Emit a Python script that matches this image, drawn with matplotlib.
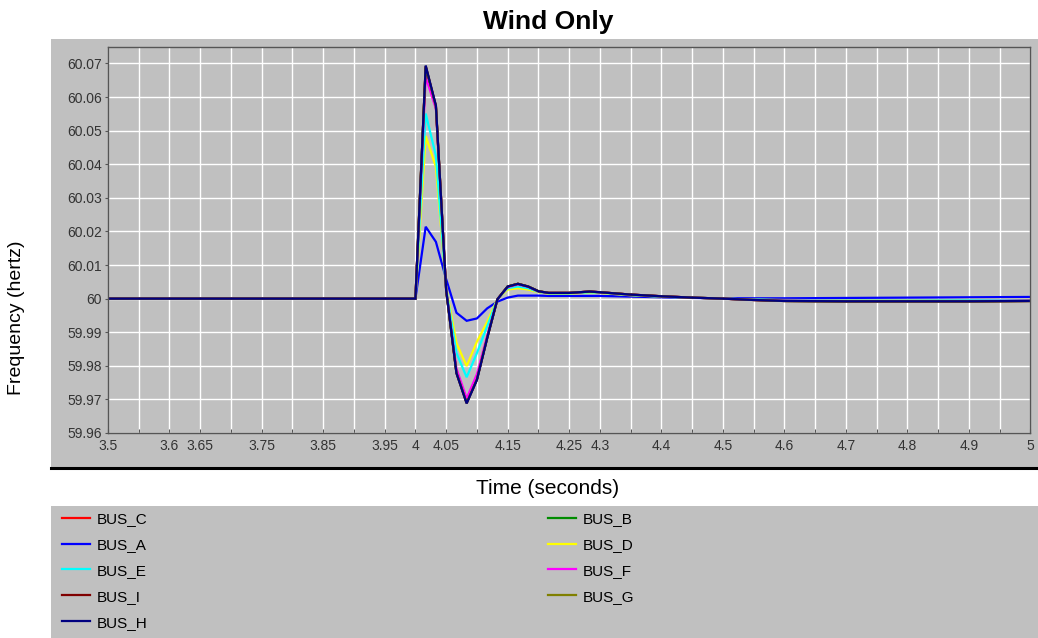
import matplotlib
matplotlib.use("Agg")
import matplotlib.pyplot as plt
from matplotlib.patches import Rectangle
from matplotlib.lines import Line2D

plt.rcParams['font.family'] = ['Liberation Sans', 'DejaVu Sans']

# ---------------- data ----------------
time_s = [3.5, 4.0, 4.0167, 4.0333, 4.05, 4.0667, 4.0833, 4.1, 4.1167, 4.1333,
          4.15, 4.1667, 4.1833, 4.2, 4.2167, 4.25, 4.2833, 4.3, 4.35, 4.4,
          4.45, 4.5, 4.55, 4.6, 4.7, 4.8, 4.9, 5.0]

bus_c = [60.0, 60.0, 60.0690, 60.0572, 60.0025, 59.9780, 59.9690, 59.9760, 59.9884, 59.9998,
         60.0036, 60.0044, 60.0036, 60.0022, 60.0017, 60.0017, 60.0021, 60.0019, 60.0012, 60.0007,
         60.0003, 60.0000, 59.9996, 59.9993, 59.9992, 59.9992, 59.9992, 59.9993]
bus_b = [60.0, 60.0, 60.0688, 60.0570, 60.0025, 59.9781, 59.9691, 59.9761, 59.9885, 59.9998,
         60.0036, 60.0044, 60.0036, 60.0022, 60.0017, 60.0017, 60.0021, 60.0019, 60.0012, 60.0007,
         60.0003, 60.0000, 59.9996, 59.9993, 59.9992, 59.9992, 59.9992, 59.9993]
bus_a = [60.0, 60.0, 60.0214, 60.0169, 60.0058, 59.9958, 59.9934, 59.9941, 59.9971, 59.9991,
         60.0003, 60.0009, 60.0009, 60.0009, 60.0008, 60.0008, 60.0008, 60.0008, 60.0006, 60.0004,
         60.0002, 60.0001, 60.0001, 60.0001, 60.0002, 60.0003, 60.0004, 60.0005]
bus_d = [60.0, 60.0, 60.0484, 60.0392, 60.0032, 59.9868, 59.9799, 59.9872, 59.9931, 59.9999,
         60.0027, 60.0031, 60.0027, 60.0019, 60.0015, 60.0015, 60.0018, 60.0017, 60.0010, 60.0006,
         60.0003, 60.0000, 59.9997, 59.9996, 59.9995, 59.9995, 59.9996, 59.9996]
bus_e = [60.0, 60.0, 60.0551, 60.0425, 60.0030, 59.9838, 59.9766, 59.9838, 59.9918, 59.9998,
         60.0031, 60.0036, 60.0031, 60.0020, 60.0016, 60.0016, 60.0019, 60.0018, 60.0011, 60.0006,
         60.0003, 60.0000, 59.9997, 59.9995, 59.9994, 59.9994, 59.9995, 59.9995]
bus_f = [60.0, 60.0, 60.0660, 60.0565, 60.0028, 59.9792, 59.9703, 59.9775, 59.9890, 59.9998,
         60.0034, 60.0042, 60.0035, 60.0021, 60.0017, 60.0017, 60.0021, 60.0019, 60.0012, 60.0007,
         60.0003, 60.0000, 59.9996, 59.9994, 59.9993, 59.9993, 59.9993, 59.9994]
bus_i = [60.0, 60.0, 60.0692, 60.0573, 60.0025, 59.9779, 59.9689, 59.9759, 59.9883, 59.9998,
         60.0036, 60.0044, 60.0036, 60.0022, 60.0017, 60.0017, 60.0021, 60.0019, 60.0012, 60.0007,
         60.0003, 60.0000, 59.9996, 59.9993, 59.9992, 59.9992, 59.9992, 59.9993]
bus_g = [60.0, 60.0, 60.0691, 60.0573, 60.0025, 59.9779, 59.9689, 59.9759, 59.9883, 59.9998,
         60.0036, 60.0044, 60.0036, 60.0022, 60.0017, 60.0017, 60.0021, 60.0019, 60.0012, 60.0007,
         60.0003, 60.0000, 59.9996, 59.9993, 59.9992, 59.9992, 59.9992, 59.9993]
bus_h = [60.0, 60.0, 60.0694, 60.0575, 60.0025, 59.9778, 59.9688, 59.9758, 59.9882, 59.9998,
         60.0036, 60.0044, 60.0036, 60.0022, 60.0017, 60.0017, 60.0021, 60.0019, 60.0012, 60.0007,
         60.0003, 60.0000, 59.9996, 59.9993, 59.9992, 59.9992, 59.9992, 59.9993]

series_names = ["BUS_C", "BUS_B", "BUS_A", "BUS_D", "BUS_E", "BUS_F", "BUS_I", "BUS_G", "BUS_H"]
series_values = [bus_c, bus_b, bus_a, bus_d, bus_e, bus_f, bus_i, bus_g, bus_h]
series_colors = ["#FF0000", "#008C00", "#0000FF", "#FFFF00", "#00FFFF", "#FF00FF",
                 "#800000", "#808000", "#000080"]

y_ticks = [59.96, 59.97, 59.98, 59.99, 60.0, 60.01, 60.02, 60.03, 60.04, 60.05, 60.06, 60.07]
y_tick_labels = ["59.96", "59.97", "59.98", "59.99", "60", "60.01", "60.02", "60.03",
                 "60.04", "60.05", "60.06", "60.07"]
x_ticks = [3.5, 3.55, 3.6, 3.65, 3.7, 3.75, 3.8, 3.85, 3.9, 3.95, 4.0, 4.05, 4.1, 4.15,
           4.2, 4.25, 4.3, 4.35, 4.4, 4.45, 4.5, 4.55, 4.6, 4.65, 4.7, 4.75, 4.8, 4.85,
           4.9, 4.95, 5.0]
x_tick_labels = ["3.5", "", "3.6", "3.65", "", "3.75", "", "3.85", "", "3.95", "4", "4.05",
                 "", "4.15", "", "4.25", "4.3", "", "4.4", "", "4.5", "", "4.6", "", "4.7",
                 "", "4.8", "", "4.9", "", "5"]

title_text = "Wind Only"
x_label = "Time (seconds)"
y_label = "Frequency (hertz)"

# ---------------- figure ----------------
W, H = 1038, 638
fig = plt.figure(figsize=(W / 100, H / 100), dpi=100)
fig.patch.set_facecolor("white")

def fx(px):
    return px / W

def fy(py):
    return 1 - py / H

panel_gray = "#C0C0C0"
# chart panel
fig.patches.append(Rectangle((fx(51), fy(468)), fx(1038) - fx(51), fy(39) - fy(468),
                             transform=fig.transFigure, facecolor=panel_gray,
                             edgecolor="none", zorder=-10))
fig.lines.append(Line2D([fx(51), fx(1038)], [fy(468), fy(468)], transform=fig.transFigure,
                        color="black", lw=2.2, zorder=-5))
# legend panel
fig.patches.append(Rectangle((fx(51), 0), fx(1038) - fx(51), fy(506),
                             transform=fig.transFigure, facecolor=panel_gray,
                             edgecolor="none", zorder=-10))

ax = fig.add_axes([fx(108), fy(433), fx(1030.3) - fx(108), fy(47) - fy(433)])
ax.set_zorder(5)
ax.set_facecolor(panel_gray)

handles = []
for name, vals, col in zip(series_names, series_values, series_colors):
    ln, = ax.plot(time_s, vals, color=col, lw=1.6, label=name, solid_joinstyle="miter")
    handles.append(ln)

ax.set_xlim(3.5, 5.0)
ax.set_ylim(59.96, 60.0749)
ax.set_xticks(x_ticks)
ax.set_xticklabels(x_tick_labels)
ax.set_yticks(y_ticks)
ax.set_yticklabels(y_tick_labels)
ax.grid(True, color="white", lw=1.0)
ax.set_axisbelow(True)
for s in ax.spines.values():
    s.set_color("#555555")
    s.set_linewidth(1.0)
ax.tick_params(axis="y", direction="out", length=2.5, width=0.8, color="#555555",
               labelsize=10, labelcolor="#333333", pad=2)
ax.tick_params(axis="x", direction="in", length=3, width=0.8, color="#555555",
               labelsize=10, labelcolor="#333333", pad=4)

fig.text(fx(548), fy(29), title_text, ha="center", va="baseline", fontsize=19,
         fontweight="bold")
fig.text(fx(548), fy(494), x_label, ha="center", va="baseline", fontsize=15)
fig.text(fx(17), fy(318), y_label, ha="center", va="center", rotation=90, fontsize=14)

# legend: two columns
by_name = dict(zip(series_names, handles))
col1 = ["BUS_C", "BUS_A", "BUS_E", "BUS_I", "BUS_H"]
col2 = ["BUS_B", "BUS_D", "BUS_F", "BUS_G"]
for names, x0 in ((col1, 62), (col2, 548)):
    leg = fig.legend([by_name[n] for n in names], names, loc="upper left",
                     bbox_to_anchor=(fx(x0), fy(512)), frameon=False, fontsize=11,
                     borderpad=0, borderaxespad=0, handlelength=1.85, handletextpad=0.45,
                     labelspacing=0.78)
    leg.set_zorder(6)

fig.savefig("out.png", dpi=100, facecolor="white")
